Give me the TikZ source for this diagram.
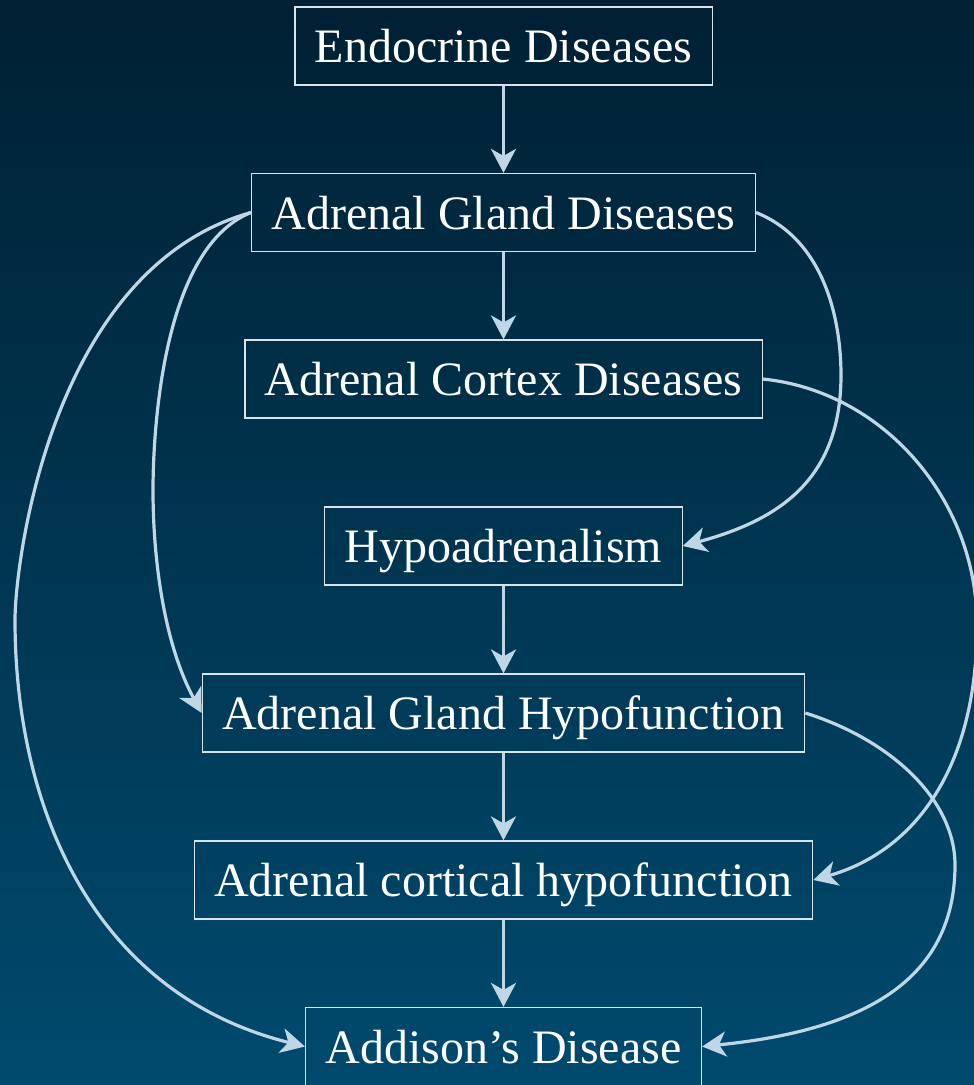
\documentclass[tikz,border=0pt]{standalone}
\usepackage{fontspec}
\setmainfont{Liberation Serif}
\usetikzlibrary{arrows.meta}
\definecolor{bgtop}{RGB}{0,32,51}
\definecolor{bgbot}{RGB}{0,74,110}
\definecolor{edgecol}{RGB}{190,214,230}
\definecolor{boxline}{RGB}{215,228,236}
\begin{document}
\begin{tikzpicture}[x=1pt,y=1pt,
  box/.style={draw=boxline, line width=1.2pt, text=white,
    minimum height=78pt, inner xsep=20pt, text height=33pt, text depth=0pt,
    font=\fontsize{48}{58}\selectfont},
  link/.style={draw=edgecol, line width=3.2pt,
    -{Stealth[length=24pt,width=25pt,inset=7pt]}}]
% background
\shade[top color=bgtop,bottom color=bgbot] (0,0) rectangle (974,-1085);
\useasboundingbox (0,0) rectangle (974,-1085);

% disease hierarchy
\node[box] (endo) at (503.5,-46)    {Endocrine Diseases};
\node[box] (agd)  at (503.5,-212.5) {Adrenal Gland Diseases};
\node[box] (acd)  at (503.5,-379)   {Adrenal Cortex Diseases};
\node[box] (hyp)  at (503.5,-546)   {Hypoadrenalism};
\node[box] (agh)  at (503.5,-713)   {Adrenal Gland Hypofunction};
\node[box] (ach)  at (503.5,-880)   {Adrenal cortical hypofunction};
\node[box] (add)  at (503.5,-1046.5){Addison’s Disease};

% waypoints of the curved links
\coordinate (mA) at (153,-490);
\coordinate (mB) at (15,-620);
\coordinate (mC) at (841,-375);
\coordinate (mD) at (977,-625);
\coordinate (mE) at (955,-865);

% straight links
\draw[link] (endo) -- (agd);
\draw[link] (agd) -- (acd);
\draw[link] (hyp) -- (agh);
\draw[link] (agh) -- (ach);
\draw[link] (ach) -- (add);

% curved links
\draw[link] (agd.west) .. controls +(-93,-37) and +(0,41) .. (mA)
  .. controls +(0,-68) and +(-38,70) .. (agh.west);
\draw[link] (agd.west) .. controls +(-200,-56) and +(0,57) .. (mB)
  .. controls +(0,-186) and +(-213,53) .. (add.west);
\draw[link] (agd.east) .. controls +(70,-28) and +(0,52) .. (mC)
  .. controls +(0,-104) and +(97,26) .. (hyp.east);
\draw[link] (acd.east) .. controls +(120,-12) and +(0,126) .. (mD)
  .. controls +(0,-150) and +(96,27) .. (ach.east);
\draw[link] (agh.east) .. controls +(86,-27) and +(0,65) .. (mE)
  .. controls +(0,-122) and +(150,15) .. (add.east);
\end{tikzpicture}
\end{document}
